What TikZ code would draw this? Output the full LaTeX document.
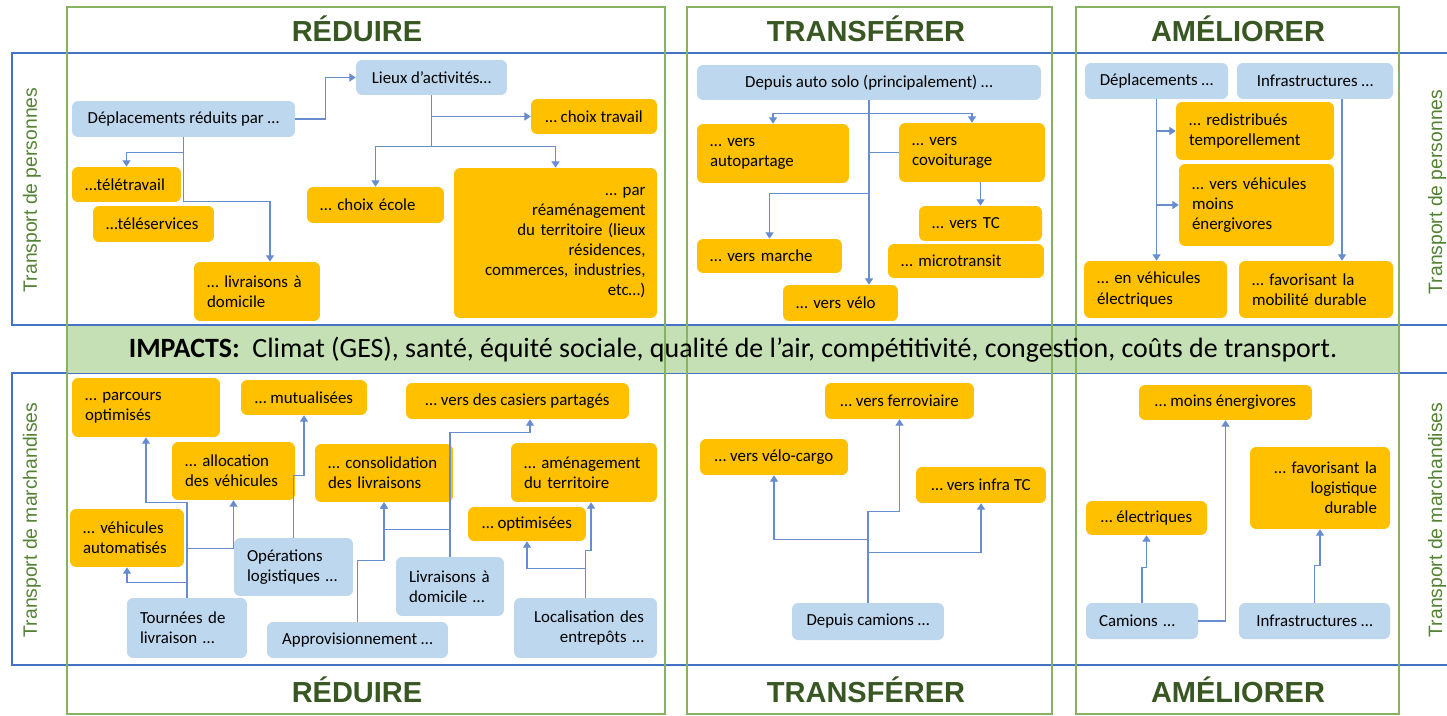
\documentclass[tikz,border=0pt]{standalone}
\usepackage{fontspec}
\setmainfont{Carlito}
\newfontfamily\arialfont{Liberation Sans}
\usetikzlibrary{arrows.meta}
\definecolor{orangebox}{RGB}{255,192,0}
\definecolor{bluebox}{RGB}{189,215,238}
\definecolor{linkblue}{RGB}{104,140,208}
\definecolor{rowblue}{RGB}{68,114,196}
\definecolor{colgreen}{RGB}{135,178,98}
\definecolor{titlegreen}{RGB}{56,87,35}
\definecolor{sidegreen}{RGB}{84,130,53}
\definecolor{impactgreen}{RGB}{197,224,180}
\tikzset{
  box/.style={rounded corners=3.5pt, inner xsep=0.26cm, inner ysep=2pt, font=\fontsize{9.6}{11.4}\selectfont},
  obox/.style={box, fill=orangebox},
  bbox/.style={box, fill=bluebox},
  ctr/.style={align=center, inner xsep=3pt},
  link/.style={draw=linkblue, line width=0.65pt},
  arr/.style={link, -{Triangle[width=4.6pt,length=3.6pt]}},
  coltitle/.style={font=\arialfont\bfseries\fontsize{16.5}{18}\selectfont, text=titlegreen},
  sidelabel/.style={font=\arialfont\fontsize{11}{13}\selectfont, text=sidegreen, rotate=90},
}
\begin{document}
\begin{tikzpicture}[x=0.02cm,y=-0.02cm]
\useasboundingbox (0,0) rectangle (1447,716);
\fill[white] (0,0) rectangle (1447,716);
% rows
\draw[rowblue, line width=1pt] (1447,53) -- (12,53) -- (12,325) -- (1447,325);
\draw[rowblue, line width=1pt] (1447,373) -- (12,373) -- (12,665) -- (1447,665);
\fill[impactgreen] (67,326) rectangle (1399,373);
\draw[rowblue, line width=1pt] (1399,326) -- (1399,373);
% columns
\draw[colgreen, line width=1.1pt] (67,7) rectangle (665,714);
\draw[colgreen, line width=1.1pt] (687,7) rectangle (1052,714);
\draw[colgreen, line width=1.1pt] (1076,7) rectangle (1399,714);

\node[coltitle] (redT) at (357,29) {RÉDUIRE};
\node[coltitle] (traT) at (866,29) {TRANSFÉRER};
\node[coltitle] (ameT) at (1238,29) {AMÉLIORER};
\node[coltitle] (redB) at (357,690) {RÉDUIRE};
\node[coltitle] (traB) at (866,690) {TRANSFÉRER};
\node[coltitle] (ameB) at (1238,690) {AMÉLIORER};
\node[sidelabel] (persL) at (32,190) {Transport de personnes};
\node[sidelabel] (persR) at (1437,192) {Transport de personnes};
\node[sidelabel] (marchL) at (32,520) {Transport de marchandises};
\node[sidelabel] (marchR) at (1437,520) {Transport de marchandises};
\node[font=\fontsize{15.9}{17}\selectfont] (impacts) at (733,350) {\textbf{IMPACTS:}\ \ Climat (GES), santé, équité sociale, qualité de l’air, compétitivité, congestion, coûts de transport.};

% personnes - reduire
\node[bbox, ctr, minimum width=4.46cm, minimum height=0.72cm] (dep) at (183.5,119) {Déplacements réduits par …};
\node[bbox, ctr, minimum width=3.02cm, minimum height=0.70cm] (lieux) at (431.5,77.5) {Lieux d’activités…};
\node[obox, ctr, minimum width=2.52cm, minimum height=0.70cm] (travail) at (594,116.5) {… choix travail};
\node[obox, text width=2.22cm, minimum height=0.72cm, align=left] (ecole) at (375.5,205) {… choix école};
\node[obox, text width=1.66cm, minimum height=0.70cm, align=left] (tele) at (126.5,184.5) {…télétravail};
\node[obox, text width=1.90cm, minimum height=0.72cm, align=left] (teles) at (153.5,224) {…téléservices};
\node[obox, text width=2.00cm, minimum height=1.18cm, align=left] (livr) at (257,291.5) {… livraisons à\\domicile};
\node[obox, text width=3.60cm, minimum height=3.00cm, align=right, inner xsep=0.23cm] (amen) at (555.5,243) {… par\\réaménagement\\du territoire (lieux\\résidences,\\commerces, industries,\\etc…)};
\draw[arr] (dep.east) -- ++(30,0) |- (lieux.west);
\draw[arr] (dep.south) -- ++(0,15) -| (tele.north);
\draw[arr] (dep.south) -- ++(0,64) -| ([xshift=0.26cm]livr.north);
\draw[arr] (lieux.south) |- (travail.west);
\draw[arr] (lieux.south) -- ++(0,51) -| (ecole.north);
\draw[arr] (lieux.south) -- ++(0,51) -| (amen.north);

% personnes - transferer
\node[bbox, ctr, minimum width=6.88cm, minimum height=0.70cm] (auto) at (869,82.5) {Depuis auto solo (principalement) …};
\node[obox, text width=2.52cm, minimum height=1.18cm, align=left] (autop) at (773,153.5) {… vers\\autopartage};
\node[obox, text width=2.40cm, minimum height=1.18cm, align=left] (covoit) at (972,152.5) {… vers\\covoiturage};
\node[obox, text width=1.94cm, minimum height=0.70cm, align=left] (tc) at (980.5,223.5) {… vers TC};
\node[obox, text width=2.60cm, minimum height=0.68cm, align=left] (micro) at (966,261) {… microtransit};
\node[obox, text width=2.38cm, minimum height=0.68cm, align=left] (marche) at (769.5,256) {… vers marche};
\node[obox, text width=1.78cm, minimum height=0.72cm, align=left] (velo) at (840.5,303) {… vers vélo};
\draw[arr] (auto.south) -- ++(0,13) -| (autop.north);
\draw[arr] (auto.south) -- ++(0,13) -| (covoit.north);
\draw[link] (auto.south |- covoit.west) -- (covoit.west);
\draw[arr] (auto.south) -- ++(0,93) -| (marche.north);
\draw[arr] (auto.south) -- (auto.south |- velo.north);
\draw[arr] (tc.north |- covoit.south) -- (tc.north);

% personnes - ameliorer
\node[bbox, ctr, minimum width=2.86cm, minimum height=0.72cm] (depl) at (1156.5,81) {Déplacements …};
\node[bbox, ctr, minimum width=3.12cm, minimum height=0.72cm] (infra) at (1315,81) {Infrastructures …};
\node[obox, text width=2.64cm, minimum height=1.16cm, align=left] (redis) at (1255,131) {… redistribués\\temporellement};
\node[obox, text width=2.58cm, minimum height=1.64cm, align=left] (moins) at (1256.5,205) {… vers véhicules\\moins\\énergivores};
\node[obox, text width=2.34cm, minimum height=1.14cm, align=left] (elec) at (1155.5,289.5) {… en véhicules\\électriques};
\node[obox, text width=2.56cm, minimum height=1.14cm, align=left] (fav) at (1316,289.5) {… favorisant la\\mobilité durable};
\draw[arr] (depl.south) -- (depl.south |- elec.north);
\draw[arr] (depl.south |- redis.west) -- (redis.west);
\draw[arr] (depl.south |- moins.west) -- (moins.west);
\draw[arr] ([xshift=0.54cm]infra.south) -- ([xshift=0.54cm]infra.south |- fav.north);

% marchandises - reduire
\node[obox, text width=2.44cm, minimum height=1.18cm, align=left] (parc) at (146,407.5) {… parcours\\optimisés};
\node[obox, ctr, minimum width=2.52cm, minimum height=0.70cm] (mutu) at (304,397.5) {… mutualisées};
\node[obox, text width=1.94cm, minimum height=1.16cm, align=left] (alloc) at (233.5,471) {… allocation\\des véhicules};
\node[obox, text width=1.76cm, minimum height=1.16cm, align=left] (vauto) at (127,538) {… véhicules\\automatisés};
\node[bbox, text width=1.86cm, minimum height=1.16cm, align=left] (oper) at (293.5,567) {Opérations\\logistiques …};
\node[bbox, text width=1.88cm, minimum height=1.20cm, align=left] (tourn) at (187,628) {Tournées de\\livraison …};
\node[bbox, ctr, minimum width=3.62cm, minimum height=0.72cm] (appro) at (357.5,640) {Approvisionnement …};
\node[obox, text width=2.24cm, minimum height=1.16cm, align=left] (conso) at (384,473) {… consolidation\\des livraisons};
\node[obox, ctr, minimum width=4.46cm, minimum height=0.72cm] (casiers) at (517.5,401) {… vers des casiers partagés};
\node[obox, text width=2.40cm, minimum height=1.18cm, align=left] (amenag) at (584,472.5) {… aménagement\\du territoire};
\node[obox, ctr, minimum width=2.36cm, minimum height=0.68cm] (optim) at (527,524) {… optimisées};
\node[bbox, text width=1.64cm, minimum height=1.18cm, align=left] (livdom) at (450,586.5) {Livraisons à\\domicile …};
\node[bbox, text width=2.34cm, minimum height=1.20cm, align=right] (local) at (585.5,628) {Localisation des\\entrepôts …};
\draw[arr] (tourn.north) -- ++(0,-95) -| (parc.south);
\draw[arr] (tourn.north) -- ++(0,-15) -| (vauto.south);
\draw[arr] (tourn.north) -- ++(0,-49) -| (alloc.south);
\draw[arr] (oper.north) -- ++(0,-62) -| (mutu.south);
\draw[arr] (appro.north) -- ++(0,-61) -| (conso.south);
\draw[arr] (livdom.north) -- ++(0,-27) -| (conso.south);
\draw[arr] (livdom.north) -- ++(0,-124) -| ([xshift=0.25cm]casiers.south);
\draw[arr] (local.north) -- ++(0,-29) -| (optim.south);
\draw[arr] (local.north) -- ++(0,-47) -| ([xshift=0.14cm]amenag.south);

% marchandises - transferer
\node[obox, ctr, minimum width=2.98cm, minimum height=0.72cm] (ferro) at (899.5,401) {… vers ferroviaire};
\node[obox, ctr, minimum width=2.96cm, minimum height=0.72cm] (vcargo) at (774,457) {… vers vélo-cargo};
\node[obox, ctr, minimum width=2.60cm, minimum height=0.72cm] (infratc) at (981,485) {… vers infra TC};
\node[bbox, ctr, minimum width=3.04cm, minimum height=0.74cm] (depcam) at (868,621.5) {Depuis camions …};
\draw[arr] (depcam.north) -- ++(0,-91) -| (ferro.south);
\draw[arr] (depcam.north) -- ++(0,-63) -| (vcargo.south);
\draw[arr] (depcam.north) -- ++(0,-50) -| (infratc.south);

% marchandises - ameliorer
\node[obox, ctr, minimum width=3.46cm, minimum height=0.70cm] (menerg) at (1225.5,402.5) {… moins énergivores};
\node[obox, ctr, minimum width=2.42cm, minimum height=0.68cm] (elec2) at (1146.5,518) {… électriques};
\node[obox, text width=2.28cm, minimum height=1.64cm, align=right] (favlog) at (1320,488) {… favorisant la\\logistique\\durable};
\node[bbox, text width=1.72cm, minimum height=0.72cm, align=left] (cam) at (1142,621) {Camions …};
\node[bbox, ctr, minimum width=3.02cm, minimum height=0.72cm] (infra2) at (1314.5,621) {Infrastructures …};
\draw[arr] (cam.north) -- ++(0,-35) -| (elec2.south);
\draw[arr] (cam.east) -| (menerg.south);
\draw[arr] (infra2.north) -- ++(0,-37) -| (favlog.south);
\end{tikzpicture}
\end{document}
